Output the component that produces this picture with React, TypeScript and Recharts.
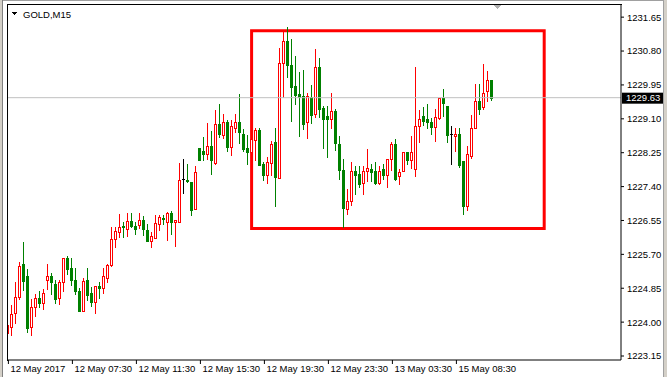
import React from "react";
import { ComposedChart, Bar, XAxis, YAxis, ReferenceLine, ReferenceArea } from "recharts";

// GOLD M15 candles
const opens = [
  1223.72, 1223.87, 1224.22, 1224.64, 1225.46, 1225.16, 1223.87, 1224.37, 1224.6, 1224.47,
  1225.06, 1225.15, 1224.96, 1224.61, 1225.0, 1225.61, 1225.36, 1225.06, 1224.79, 1224.29,
  1225.06, 1224.74, 1224.51, 1224.9, 1224.85, 1225.1, 1225.44, 1226.08, 1226.25, 1226.42,
  1226.33, 1226.53, 1226.41, 1226.43, 1226.56, 1226.31, 1226.04, 1226.12, 1226.45, 1226.61,
  1226.52, 1226.74, 1226.5, 1226.5, 1227.58, 1227.56, 1227.51, 1226.83, 1228.37, 1228.29,
  1228.22, 1228.42, 1227.99, 1228.96, 1228.69, 1229.01, 1228.4, 1228.87, 1229.01, 1228.71,
  1228.36, 1228.28, 1228.58, 1228.83, 1227.96, 1227.7, 1227.98, 1228.52, 1227.62, 1230.49,
  1231.04, 1230.45, 1229.92, 1229.73, 1229.67, 1229.03, 1229.64, 1229.21, 1230.4, 1229.37,
  1229.17, 1229.1, 1229.29, 1228.47, 1227.82, 1226.84, 1227.03, 1227.79, 1227.71, 1227.49,
  1227.78, 1227.84, 1227.79, 1227.48, 1227.83, 1227.69, 1228.08, 1228.48, 1227.67, 1227.78,
  1228.28, 1228.07, 1227.85, 1228.91, 1229.17, 1229.09, 1229.02, 1228.9, 1229.12, 1229.62,
  1229.42, 1228.71, 1228.68, 1228.71, 1228.04, 1226.92, 1228.17, 1228.87, 1229.54, 1229.4,
  1229.79, 1230.07,
];
const highs = [
  1224.12, 1224.42, 1225.01, 1225.51, 1226.01, 1225.33, 1224.59, 1224.7, 1224.79, 1224.82,
  1225.46, 1225.22, 1225.06, 1225.05, 1225.62, 1225.66, 1225.62, 1225.37, 1224.86, 1225.11,
  1225.36, 1224.87, 1224.9, 1225.01, 1225.36, 1225.46, 1226.38, 1226.38, 1226.7, 1226.52,
  1226.74, 1226.74, 1226.52, 1226.74, 1226.66, 1226.46, 1226.26, 1226.69, 1226.68, 1226.69,
  1226.77, 1226.79, 1226.57, 1227.99, 1228.09, 1227.96, 1227.51, 1227.91, 1228.37, 1228.64,
  1228.99, 1228.79, 1229.32, 1229.47, 1229.21, 1229.07, 1229.07, 1229.22, 1229.72, 1228.84,
  1228.7, 1228.67, 1228.87, 1228.87, 1228.01, 1228.14, 1228.54, 1228.87, 1230.87, 1231.29,
  1231.4, 1231.09, 1230.68, 1230.27, 1230.32, 1229.74, 1229.96, 1230.85, 1230.62, 1229.41,
  1229.41, 1229.74, 1229.35, 1228.67, 1228.08, 1227.34, 1228.01, 1227.92, 1227.92, 1227.91,
  1228.35, 1227.96, 1228.01, 1227.91, 1227.97, 1228.08, 1228.51, 1228.59, 1227.84, 1228.28,
  1228.28, 1228.67, 1230.4, 1229.32, 1229.39, 1229.47, 1229.12, 1229.34, 1229.62, 1229.84,
  1229.42, 1228.92, 1228.87, 1228.87, 1228.04, 1228.42, 1229.19, 1229.97, 1229.97, 1230.47,
  1230.31, 1230.07,
];
const lows = [
  1223.26, 1223.68, 1223.97, 1224.58, 1224.8, 1223.76, 1223.67, 1224.16, 1224.39, 1224.33,
  1224.82, 1224.7, 1224.47, 1224.45, 1224.78, 1225.21, 1224.92, 1224.7, 1224.29, 1224.29,
  1224.55, 1224.4, 1224.24, 1224.61, 1224.72, 1225.0, 1225.41, 1225.89, 1226.14, 1226.14,
  1226.17, 1226.39, 1226.21, 1226.37, 1226.19, 1226.04, 1225.88, 1226.12, 1226.32, 1226.47,
  1226.07, 1226.22, 1225.92, 1226.5, 1227.24, 1227.52, 1226.69, 1226.83, 1228.07, 1228.07,
  1228.08, 1227.72, 1227.96, 1228.64, 1228.63, 1228.3, 1228.2, 1228.77, 1228.5, 1228.3,
  1227.97, 1228.24, 1228.06, 1227.93, 1227.56, 1227.48, 1227.7, 1226.92, 1227.62, 1229.65,
  1230.15, 1229.05, 1229.46, 1228.68, 1228.85, 1228.62, 1229.0, 1229.14, 1229.14, 1228.37,
  1228.15, 1228.87, 1228.31, 1227.6, 1226.38, 1226.72, 1226.94, 1227.21, 1227.38, 1227.21,
  1227.55, 1227.54, 1227.46, 1227.46, 1227.59, 1227.39, 1227.81, 1227.56, 1227.46, 1227.78,
  1227.97, 1227.87, 1227.67, 1228.52, 1228.94, 1228.87, 1228.72, 1228.55, 1229.09, 1229.17,
  1228.52, 1227.96, 1228.3, 1227.88, 1226.72, 1226.81, 1228.11, 1228.87, 1229.23, 1229.34,
  1229.55, 1229.57,
];
const closes = [
  1223.93, 1224.2, 1224.62, 1225.41, 1225.04, 1223.86, 1224.37, 1224.6, 1224.47, 1224.72,
  1225.15, 1225.01, 1224.59, 1225.0, 1225.6, 1225.33, 1225.06, 1224.79, 1224.29, 1225.03,
  1224.69, 1224.5, 1224.9, 1224.86, 1225.15, 1225.43, 1226.08, 1226.28, 1226.38, 1226.38,
  1226.53, 1226.42, 1226.33, 1226.56, 1226.33, 1226.04, 1226.15, 1226.48, 1226.63, 1226.59,
  1226.73, 1226.52, 1226.55, 1227.56, 1227.58, 1227.53, 1226.82, 1227.76, 1228.07, 1228.22,
  1228.41, 1228.06, 1228.96, 1228.72, 1229.01, 1228.4, 1228.91, 1229.01, 1228.77, 1228.35,
  1228.27, 1228.6, 1228.83, 1227.93, 1227.7, 1228.01, 1228.46, 1227.64, 1230.49, 1231.04,
  1230.44, 1229.9, 1229.7, 1229.65, 1228.97, 1229.66, 1229.2, 1230.4, 1229.35, 1229.1,
  1229.1, 1229.29, 1228.5, 1227.82, 1226.87, 1227.03, 1227.78, 1227.69, 1227.46, 1227.78,
  1227.86, 1227.77, 1227.48, 1227.79, 1227.69, 1228.08, 1228.48, 1227.59, 1227.76, 1228.28,
  1228.07, 1228.28, 1228.92, 1229.09, 1229.05, 1229.02, 1228.9, 1229.14, 1229.62, 1229.5,
  1228.7, 1228.71, 1228.72, 1227.94, 1226.92, 1228.21, 1228.87, 1229.54, 1229.35, 1229.76,
  1230.07, 1229.63,
];

const timeTicks = [0, 16, 32, 48, 64, 80, 96, 112];
const timeLabels = [
  "12 May 2017",
  "12 May 07:30",
  "12 May 11:30",
  "12 May 15:30",
  "12 May 19:30",
  "12 May 23:30",
  "13 May 03:30",
  "15 May 08:30",
];
const priceTicks = [
  1223.15, 1224.0, 1224.85, 1225.7, 1226.55, 1227.4, 1228.25, 1229.1, 1229.95, 1230.8, 1231.65,
];
const lastPrice = 1229.63;
// the red box drawn on the chart (bar index / price)
const boxBars = [60.8, 133.95];
const boxPrices = [1226.35, 1231.31];

const FONT = "'Liberation Sans', Arial, sans-serif";
const BULL = "#ff0000";
const BEAR = "#008000";

const data = opens.map((o, i) => ({
  i,
  open: o,
  high: highs[i],
  low: lows[i],
  close: closes[i],
}));

const Candle = (props: any) => {
  const { x, y, width, height, payload } = props;
  if (x == null || payload == null) return null;
  const top = Math.min(y, y + height);
  const h = Math.abs(height);
  const { open, high, low, close } = payload;
  const range = high - low || 1;
  const py = (p: number) => Math.round(top + ((high - p) / range) * h);
  const cx = Math.floor(x + width / 2);
  const yH = py(high);
  const yL = py(low);
  const yO = py(open);
  const yC = py(close);
  const color = close > open ? BULL : close < open ? BEAR : "#000";
  return (
    <g shapeRendering="crispEdges">
      <rect x={cx} y={yH} width={1} height={yL - yH + 1} fill={color} />
      {close > open && (
        <rect x={cx - 0.5} y={yC + 0.5} width={2} height={Math.max(yO - yC, 1)} fill="#fff" stroke={BULL} strokeWidth={1} />
      )}
      {close < open && <rect x={cx - 1} y={yO} width={3} height={yC - yO + 1} fill={BEAR} />}
      {close === open && <rect x={cx - 1} y={yO} width={3} height={1} fill="#000" />}
    </g>
  );
};

const TimeTick = (props: any) => {
  const { x, y, payload } = props;
  const idx = timeTicks.indexOf(payload.value);
  return (
    <text x={x + 2} y={y + 6} fontSize={9.5} fontFamily={FONT} fill="#000" textAnchor="start">
      {timeLabels[idx]}
    </text>
  );
};

const PriceTag = (props: any) => {
  const vb = props.viewBox || {};
  const left = (vb.x || 0) + (vb.width || 0);
  const y = vb.y || 0;
  return (
    <g>
      <rect x={left + 1} y={y - 5} width={41} height={11} fill="#000" />
      <text x={left + 5} y={y + 3.5} fontSize={9.5} fontFamily={FONT} fill="#fff">
        {lastPrice.toFixed(2)}
      </text>
    </g>
  );
};

export default function App() {
  return (
    <div style={{ position: "relative", width: 667, height: 377, background: "#fff" }}>
      <style>{`body{margin:0}`}</style>
      <ComposedChart
        width={667}
        height={377}
        data={data}
        margin={{ top: 4, right: 0, bottom: 0, left: 8 }}
      >
        <XAxis
          dataKey="i"
          type="number"
          domain={[-0.1, 153.15]}
          allowDataOverflow
          ticks={timeTicks}
          interval={0}
          tickSize={4}
          height={17}
          tick={<TimeTick />}
          axisLine={{ stroke: "#000" }}
          tickLine={{ stroke: "#000" }}
        />
        <YAxis
          orientation="right"
          width={46}
          domain={[1223.05, 1231.98]}
          allowDataOverflow
          ticks={priceTicks}
          interval={0}
          tickSize={3}
          tickMargin={3}
          tickFormatter={(v: number) => v.toFixed(2)}
          tick={{ fontSize: 9.5, fill: "#000", fontFamily: FONT }}
          axisLine={{ stroke: "#000" }}
          tickLine={{ stroke: "#000" }}
        />
        <ReferenceLine y={lastPrice} stroke="#c0c0c0" strokeWidth={1} label={<PriceTag />} />
        <Bar
          dataKey={(d: any) => [d.low, d.high]}
          barSize={3}
          shape={<Candle />}
          isAnimationActive={false}
        />
        <ReferenceArea
          x1={boxBars[0]}
          x2={boxBars[1]}
          y1={boxPrices[0]}
          y2={boxPrices[1]}
          fill="none"
          stroke="#ff0000"
          strokeWidth={3}
          ifOverflow="visible"
        />
      </ComposedChart>
      <svg
        width={667}
        height={377}
        style={{ position: "absolute", left: 0, top: 0, pointerEvents: "none" }}
        shapeRendering="crispEdges"
      >
        <rect x={0} y={0} width={667} height={1} fill="#a0a0a0" />
        <rect x={0} y={0} width={2} height={377} fill="#d4d0c8" />
        <rect x={2} y={0} width={1} height={377} fill="#808080" />
        <rect x={663} y={0} width={4} height={377} fill="#d4d0c8" />
        <rect x={663} y={0} width={1} height={377} fill="#a0a0a0" />
        <rect x={7} y={4} width={615} height={1} fill="#000" />
        <rect x={7} y={4} width={1} height={357} fill="#000" />
        <polygon points="11,12 17,12 14,15" fill="#000" />
        <text x={23} y={18} fontSize={9.5} fontFamily={FONT} fill="#000">
          GOLD,M15
        </text>
        <polygon points="493,5 501,5 497,9" fill="#b0b0b0" />
      </svg>
    </div>
  );
}
